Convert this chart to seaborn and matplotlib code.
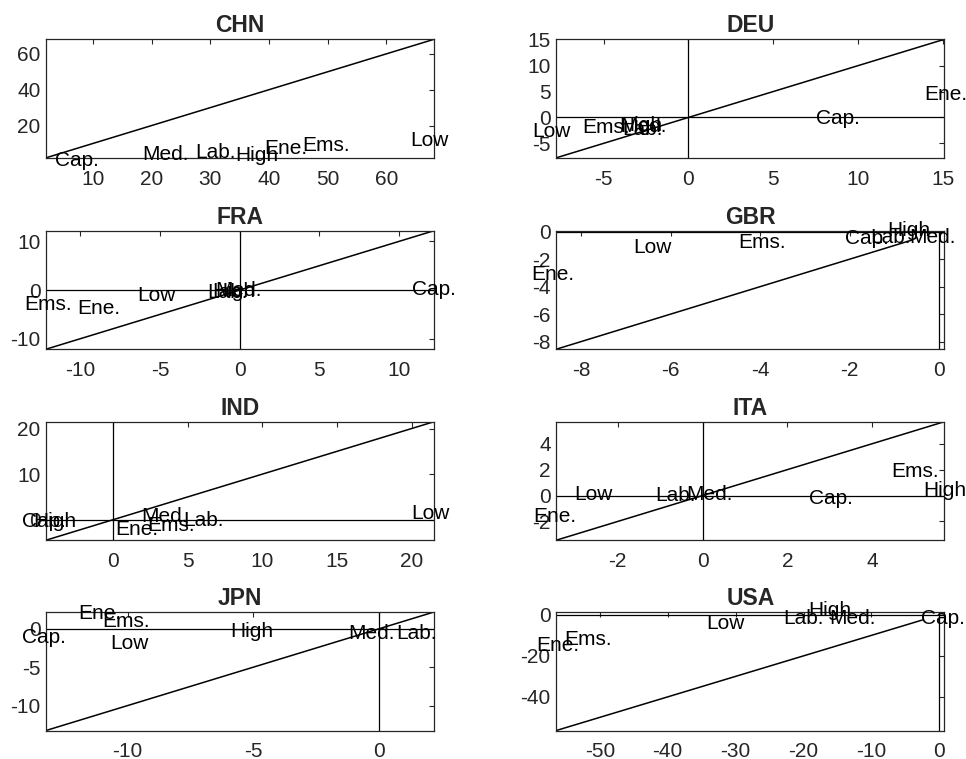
import matplotlib
matplotlib.use("Agg")
import matplotlib.pyplot as plt
import seaborn as sns
import pandas as pd

countries = ["CHN", "DEU", "FRA", "GBR", "IND", "ITA", "JPN", "USA"]
labels = ["Cap.", "Med.", "Lab.", "High", "Ene.", "Ems.", "Low"]

# label positions (x, y) per country, in label order
x_vals = {
    "CHN": [3.5, 18.4, 27.4, 34.3, 39.2, 45.7, 64.1],
    "DEU": [7.5, -4.0, -3.9, -4.1, 13.9, -6.25, -9.2],
    "FRA": [10.8, -1.5, -2.05, -1.7, -10.2, -13.5, -6.4],
    "GBR": [-2.1, -0.67, -1.55, -1.16, -9.12, -4.48, -6.83],
    "IND": [-6.1, 1.85, 4.7, -5.35, 0.11, 2.3, 20.0],
    "ITA": [2.5, -0.39, -1.12, 5.2, -4.0, 4.45, -3.03],
    "JPN": [-14.2, -1.2, 0.7, -5.93, -11.97, -11.0, -10.7],
    "USA": [-2.7, -16.2, -23.0, -19.35, -59.4, -55.3, -34.3],
}
y_vals = {
    "CHN": [0.7, 4.0, 5.0, 3.2, 7.2, 8.7, 11.8],
    "DEU": [-0.2, -1.8, -2.4, -1.5, 4.45, -1.95, -2.7],
    "FRA": [0.1, -0.1, -0.4, -0.35, -3.75, -3.06, -1.05],
    "GBR": [-0.48, -0.44, -0.45, 0.12, -3.08, -0.82, -1.17],
    "IND": [-0.3, 0.6, -0.15, -0.3, -2.2, -1.25, 1.45],
    "ITA": [-0.2, 0.1, 0.0, 0.4, -1.65, 1.85, 0.05],
    "JPN": [-1.1, -0.65, -0.65, -0.35, 2.0, 0.95, -1.85],
    "USA": [-1.6, -1.6, -1.6, 2.1, -14.7, -11.8, -4.1],
}

# axis range and diagonal (45-degree line) end points
lo = [2.0, -7.8, -12.15, -8.55, -4.5, -3.45, -13.25, -56.4]
x_hi = [68.1, 15.1, 12.2, 0.11, 21.5, 5.7, 2.2, 0.73]
y_hi = [68.1, 15.1, 12.2, 0.07, 21.5, 5.7, 2.2, 1.4]
diag_hi = [68.1, 15.1, 12.2, -0.6, 21.5, 5.7, 2.2, -2.5]

x_ticks = [
    [10, 20, 30, 40, 50, 60],
    [-5, 0, 5, 10, 15],
    [-10, -5, 0, 5, 10],
    [-8, -6, -4, -2, 0],
    [0, 5, 10, 15, 20],
    [-2, 0, 2, 4],
    [-10, -5, 0],
    [-50, -40, -30, -20, -10, 0],
]
y_ticks = [
    [20, 40, 60],
    [-5, 0, 5, 10, 15],
    [-10, 0, 10],
    [-8, -6, -4, -2, 0],
    [0, 10, 20],
    [-2, 0, 2, 4],
    [-10, -5, 0],
    [-40, -20, 0],
]

sns.set_theme(style="white")
plt.rcParams["font.family"] = ["Liberation Sans", "DejaVu Sans"]
plt.rcParams["axes.unicode_minus"] = False
plt.rcParams["xtick.direction"] = "in"
plt.rcParams["ytick.direction"] = "in"

fig = plt.figure(figsize=(9.66, 7.59), dpi=100)

W, H = 966, 759
col_left = [46, 556.3]
row_top = [39.3, 230.7, 421.7, 612]
ax_w, ax_h = 388, 118.5

edge = "#262626"

for i, c in enumerate(countries):
    r, k = divmod(i, 2)
    left = col_left[k] / W
    bottom = 1 - (row_top[r] + ax_h) / H
    ax = fig.add_axes([left, bottom, ax_w / W, ax_h / H])

    d = pd.DataFrame({"v": [lo[i], diag_hi[i]]})
    sns.lineplot(data=d, x="v", y="v", ax=ax, color="black", lw=1.1)
    ax.axhline(0, color="black", lw=0.9, zorder=1)
    ax.axvline(0, color="black", lw=0.9, zorder=1)

    for lab, xv, yv in zip(labels, x_vals[c], y_vals[c]):
        ax.text(xv, yv, lab, ha="left", va="center", fontsize=15,
                color="black", clip_on=False, zorder=3)

    ax.set_xlim(lo[i], x_hi[i])
    ax.set_ylim(lo[i], y_hi[i])
    ax.set_xticks(x_ticks[i])
    ax.set_yticks(y_ticks[i])
    ax.set_xlabel("")
    ax.set_ylabel("")
    ax.set_title(c, fontsize=16.5, fontweight="bold", pad=5)
    ax.tick_params(axis="both", which="both", direction="in", length=3.5,
                   width=0.8, colors=edge, labelsize=15, top=True, right=True,
                   labelcolor=edge)
    ax.tick_params(axis="x", pad=8.5)
    ax.tick_params(axis="y", pad=4)
    for s in ax.spines.values():
        s.set_visible(True)
        s.set_color(edge)
        s.set_linewidth(0.9)

fig.savefig("out.png", dpi=100)
